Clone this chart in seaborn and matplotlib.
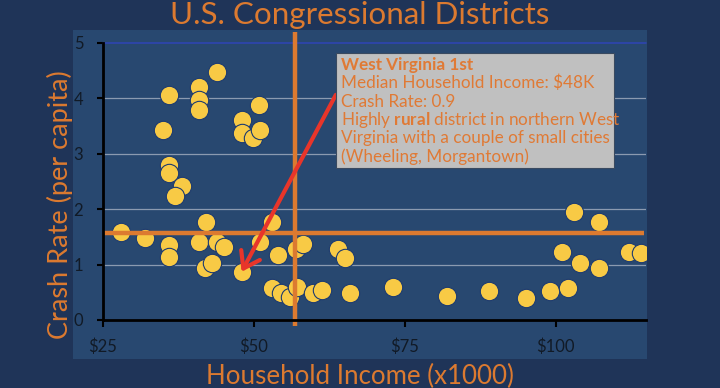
import matplotlib
matplotlib.use("Agg")
import matplotlib.pyplot as plt
import seaborn as sns
import pandas as pd
from matplotlib.patches import Rectangle

# ---- data ----
income = [28.0, 32.0, 36.0, 36.0, 36.0, 35.0, 36.0, 36.0, 38.1, 37.0,
          41.0, 41.0, 41.0, 44.0, 42.1, 41.0, 43.9, 45.1, 41.9, 43.1,
          48.0, 48.0, 48.0, 49.9, 50.9, 51.0, 51.0, 53.0, 54.0, 57.0,
          58.1, 53.0, 54.6, 56.0, 57.1, 59.9, 64.0, 65.1, 61.3, 65.9,
          73.0, 82.0, 89.0, 95.1, 99.1, 102.1, 101.0, 104.0, 107.1, 103.0,
          107.1, 112.2, 114.1]
crash = [1.58, 1.47, 1.35, 1.14, 4.05, 3.43, 2.80, 2.65, 2.42, 2.23,
         4.21, 3.97, 3.79, 4.48, 1.77, 1.40, 1.40, 1.31, 0.93, 1.03,
         0.87, 3.61, 3.38, 3.28, 3.87, 3.43, 1.41, 1.76, 1.17, 1.28,
         1.37, 0.57, 0.48, 0.42, 0.59, 0.49, 1.28, 1.12, 0.54, 0.49,
         0.60, 0.43, 0.53, 0.40, 0.53, 0.58, 1.23, 1.02, 0.93, 1.94,
         1.77, 1.23, 1.20]
mean_income = 56.8
mean_crash = 1.57
x_ticks = [25, 50, 75, 100]
x_tick_labels = ["$25", "$50", "$75", "$100"]
y_ticks = [0, 1, 2, 3, 4, 5]
highlight = (48.0, 0.87)
note_lines = ["West Virginia 1st",
              "Median Household Income: $48K",
              "Crash Rate: 0.9",
              "Highly $\\mathbf{rural}$ district in northern West",
              "Virginia with a couple of small cities",
              "(Wheeling, Morgantown)"]

df = pd.DataFrame({"income": income, "crash": crash})

# ---- style ----
FIG_BG = "#1f3458"
PANEL = "#284870"
ORANGE = "#dc7a30"
YELLOW = "#f8ca45"
FONT = "Lato"

sns.set_theme(style="white")
plt.rcParams["font.family"] = [FONT, "DejaVu Sans"]
plt.rcParams["mathtext.fontset"] = "custom"
plt.rcParams["mathtext.bf"] = FONT + ":bold"
plt.rcParams["mathtext.rm"] = FONT

fig = plt.figure(figsize=(7.2, 3.88), dpi=100, facecolor=FIG_BG)

# chart panel (lighter area)
panel = Rectangle((72.7 / 720, 1 - 358.5 / 388), 574.6 / 720, 328.5 / 388,
                  transform=fig.transFigure, facecolor=PANEL,
                  edgecolor="none", zorder=-10)
fig.add_artist(panel)

ax = fig.add_axes([102.7 / 720, 1 - 320 / 388, 543.6 / 720, 277.3 / 388])
ax.set_facecolor("none")
ax.set_zorder(1)

sns.scatterplot(data=df, x="income", y="crash", ax=ax, s=175, color=YELLOW,
                edgecolor="#1d3b70", linewidth=0.8, zorder=3, legend=False)

ax.set_xlim(25, 115)
ax.set_ylim(0, 5)

# grid lines
for yv in y_ticks[1:-1]:
    ax.axhline(yv, color="#8b9ab0", lw=0.9, zorder=1)
ax.axhline(5, color="#2f45b0", lw=1.2, zorder=1, clip_on=False)

# mean lines
ax.plot([mean_income, mean_income], [-0.1, 5.2], color=ORANGE, lw=3.2,
        zorder=4, clip_on=False, solid_capstyle="butt")
ax.plot([25, 114.6], [mean_crash, mean_crash], color=ORANGE, lw=3.2,
        zorder=4, solid_capstyle="butt")

# spines and ticks
for s in ["top", "right"]:
    ax.spines[s].set_visible(False)
for s in ["left", "bottom"]:
    ax.spines[s].set_color("black")
    ax.spines[s].set_linewidth(2)
    ax.spines[s].set_zorder(5)
ax.set_xticks(x_ticks)
ax.set_xticklabels(x_tick_labels)
ax.set_yticks(y_ticks)
ax.tick_params(axis="x", direction="out", length=5, width=1.5, color="black",
               pad=8, labelsize=12, labelcolor="#111a26")
ax.tick_params(axis="y", direction="out", length=4, width=1.5, color="black",
               pad=10, labelsize=12, labelcolor="#111a26")
ax.tick_params(left=True, bottom=True)
ax.set_xlabel("")
ax.set_ylabel("")

# arrow
ax.annotate("", xy=highlight, xytext=(63.6, 4.06),
            arrowprops=dict(arrowstyle="->,head_length=0.55,head_width=0.38",
                            color="#e8352a", lw=3, mutation_scale=20,
                            shrinkA=0, shrinkB=0),
            zorder=6)

# annotation box
ax.add_patch(Rectangle((63.6, 2.74), 46.1, 2.08, facecolor="#c0c0c0",
                       edgecolor="#3a4a60", lw=0.8, zorder=7))
line_y = [4.603, 4.271, 3.939, 3.606, 3.274, 2.942]
for i, (txt, yv) in enumerate(zip(note_lines, line_y)):
    ax.text(64.4, yv, txt, color="#e07a35", fontsize=12.3, va="center",
            ha="left", fontweight="bold" if i == 0 else "normal", zorder=8)

# titles / labels
fig.text(0.5, 1 - 24 / 388, "U.S. Congressional Districts", color=ORANGE,
         fontsize=22.6, ha="center", va="baseline")
fig.text(360 / 720, 1 - 376 / 388, "Household Income (x1000)", color=ORANGE,
         fontsize=18.6, ha="center", va="center")
fig.text(60 / 720, 1 - 205 / 388, "Crash Rate (per capita)", color=ORANGE,
         fontsize=19.5, ha="center", va="center", rotation=90)

fig.savefig("out.png", dpi=100, facecolor=FIG_BG)
